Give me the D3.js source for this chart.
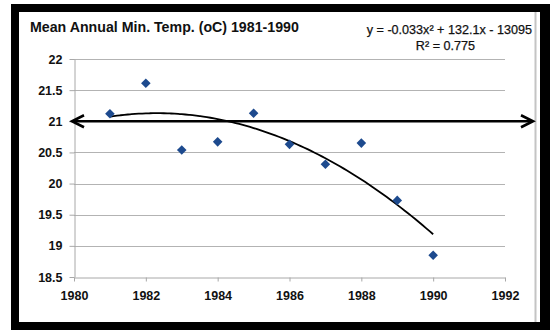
<!DOCTYPE html>
<html>
<head>
<meta charset="utf-8">
<script src="https://cdn.jsdelivr.net/npm/d3@7"></script>
<style>
html,body{margin:0;padding:0;background:#fff;}
svg{display:block;}
</style>
</head>
<body>
<svg id="chart" width="550" height="330"></svg>
<script>
// ---- data ----
const years = [1981, 1982, 1983, 1984, 1985, 1986, 1987, 1988, 1989, 1990];
const minTemps = [21.12, 21.61, 20.54, 20.67, 21.13, 20.63, 20.31, 20.65, 19.73, 18.85];
const xTicks = [1980, 1982, 1984, 1986, 1988, 1990, 1992];
const yTicks = [18.5, 19, 19.5, 20, 20.5, 21, 21.5, 22];
const titleText = "Mean Annual Min. Temp. (oC) 1981-1990";
const equationText = "y = -0.033x\u00B2 + 132.1x - 13095";
const r2Text = "R\u00B2 = 0.775";
const referenceLevel = 21;

const svg = d3.select("#chart");

// frame
svg.append("rect").attr("x", 0).attr("y", 0).attr("width", 550).attr("height", 330).attr("fill", "#fff");
svg.append("rect").attr("x", 11).attr("y", 4).attr("width", 539).attr("height", 326).attr("fill", "#000");
svg.append("rect").attr("x", 19).attr("y", 12).attr("width", 521).attr("height", 310).attr("fill", "#fff");
svg.append("line").attr("x1", 535.5).attr("x2", 535.5).attr("y1", 12).attr("y2", 322)
  .attr("stroke", "#c4c4c4").attr("stroke-width", 2);

const x = d3.scaleLinear().domain([1980, 1992]).range([74, 505]);
const y = d3.scaleLinear().domain([18.5, 22]).range([277, 59]);

// gridlines
svg.append("g").selectAll("line").data(yTicks.filter(t => t > 18.5)).join("line")
  .attr("x1", x(1980)).attr("x2", x(1992))
  .attr("y1", d => Math.round(y(d)) + 0.5).attr("y2", d => Math.round(y(d)) + 0.5)
  .attr("stroke", "#b3b3b3").attr("stroke-width", 1);

// axes
const xAxis = svg.append("g").attr("transform", `translate(0,${Math.round(y(18.5)) + 0.5})`)
  .call(d3.axisBottom(x).tickValues(xTicks).tickFormat(d3.format("d")).tickSizeInner(4).tickSizeOuter(0).tickPadding(10));
const yAxis = svg.append("g").attr("transform", `translate(${Math.round(x(1980)) + 0.5},0)`)
  .call(d3.axisLeft(y).tickValues(yTicks).tickFormat(d => d).tickSizeInner(5).tickSizeOuter(0).tickPadding(7));
[xAxis, yAxis].forEach(g => {
  g.select(".domain").attr("stroke", "#a8a8a8");
  g.selectAll(".tick line").attr("stroke", "#a8a8a8");
  g.selectAll(".tick text").attr("fill", "#111").attr("font-family", "Liberation Sans, Arial, sans-serif")
    .attr("font-weight", "bold").attr("font-size", "12.5px");
});

// quadratic least-squares trendline (as Excel's polynomial trendline)
function polyFit2(xs, ys) {
  const x0 = 1985.5;
  let S = [0,0,0,0,0], T = [0,0,0];
  xs.forEach((xv, i) => {
    const u = xv - x0;
    for (let k = 0; k < 5; k++) S[k] += Math.pow(u, k);
    for (let k = 0; k < 3; k++) T[k] += ys[i] * Math.pow(u, k);
  });
  const A = [[S[0],S[1],S[2],T[0]],[S[1],S[2],S[3],T[1]],[S[2],S[3],S[4],T[2]]];
  for (let i = 0; i < 3; i++) {
    for (let j = i + 1; j < 3; j++) {
      const f = A[j][i] / A[i][i];
      for (let k = i; k < 4; k++) A[j][k] -= f * A[i][k];
    }
  }
  const c = [0,0,0];
  for (let i = 2; i >= 0; i--) {
    let s = A[i][3];
    for (let k = i + 1; k < 3; k++) s -= A[i][k] * c[k];
    c[i] = s / A[i][i];
  }
  return xv => { const u = xv - x0; return c[0] + c[1] * u + c[2] * u * u; };
}
const fit = polyFit2(years, minTemps);
const trendXs = d3.range(years[0], years[years.length - 1] + 0.001, 0.1);
svg.append("path")
  .attr("d", d3.line().x(d => x(d)).y(d => y(fit(d))).curve(d3.curveBasis)(trendXs))
  .attr("fill", "none").attr("stroke", "#000").attr("stroke-width", 1.8);

// reference arrow line at 21
const ay = y(referenceLevel);
const axL = 72, axR = 533;
svg.append("line").attr("x1", axL + 1).attr("x2", axR - 1).attr("y1", ay).attr("y2", ay)
  .attr("stroke", "#000").attr("stroke-width", 2.6);
svg.append("polyline").attr("points", `${axL + 12},${ay - 6} ${axL},${ay} ${axL + 12},${ay + 6}`)
  .attr("fill", "none").attr("stroke", "#000").attr("stroke-width", 2.6).attr("stroke-linejoin", "miter");
svg.append("polyline").attr("points", `${axR - 12},${ay - 6} ${axR},${ay} ${axR - 12},${ay + 6}`)
  .attr("fill", "none").attr("stroke", "#000").attr("stroke-width", 2.6).attr("stroke-linejoin", "miter");

// points (diamonds)
svg.append("g").selectAll("path").data(years).join("path")
  .attr("d", d3.symbol(d3.symbolSquare, 46))
  .attr("transform", (d, i) => `translate(${x(d)},${y(minTemps[i])}) rotate(45)`)
  .attr("fill", "#1d4a8e");

// title
svg.append("text").attr("x", 30).attr("y", 32).text(titleText)
  .attr("font-family", "Liberation Sans, Arial, sans-serif").attr("font-weight", "bold")
  .attr("font-size", "14.2px").attr("fill", "#111");

// equation
svg.append("text").attr("x", 532).attr("y", 34).attr("text-anchor", "end").text(equationText)
  .attr("font-family", "Liberation Sans, Arial, sans-serif").attr("font-size", "12.6px")
  .attr("fill", "#111").attr("stroke", "#111").attr("stroke-width", 0.25);
svg.append("text").attr("x", 475).attr("y", 50).attr("text-anchor", "end").text(r2Text)
  .attr("font-family", "Liberation Sans, Arial, sans-serif").attr("font-size", "12.6px")
  .attr("fill", "#111").attr("stroke", "#111").attr("stroke-width", 0.25);
</script>
</body>
</html>
